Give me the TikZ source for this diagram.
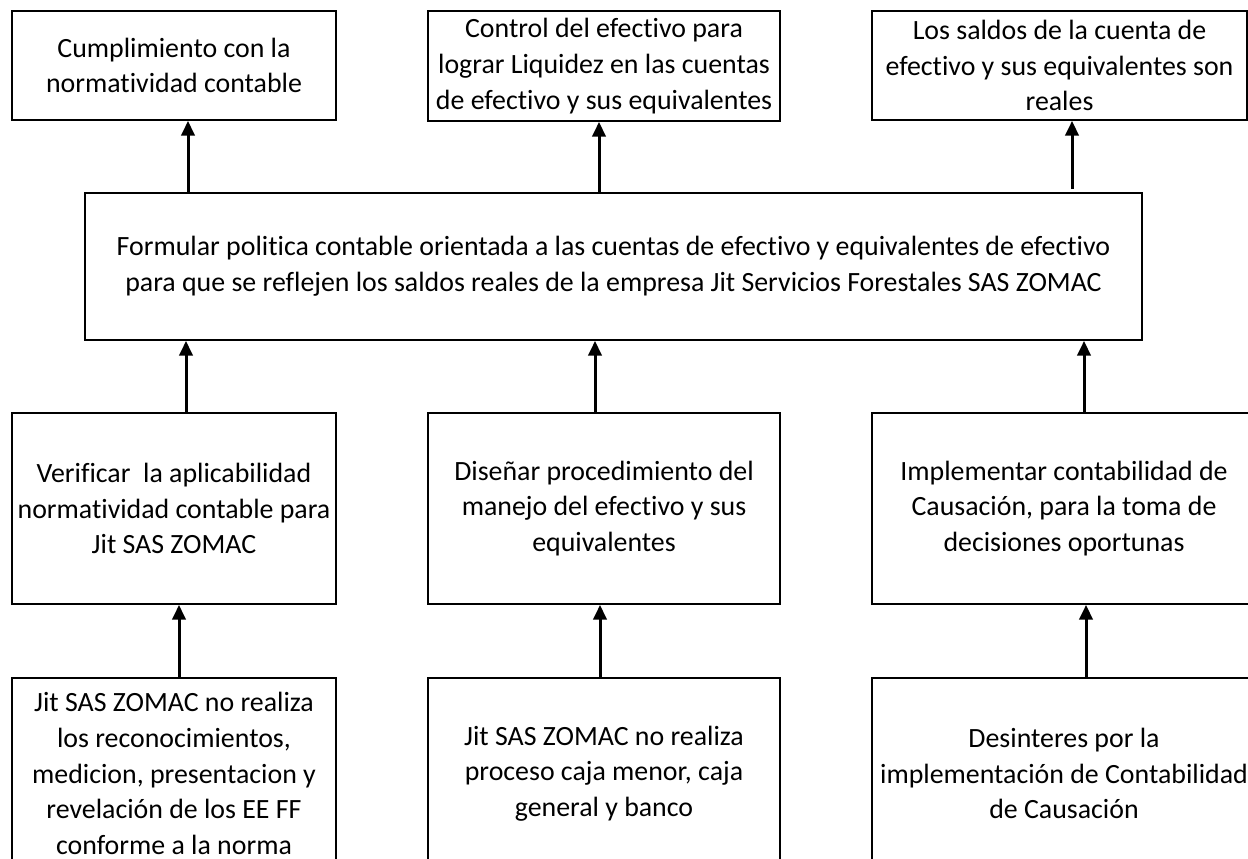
\documentclass[tikz,border=0pt]{standalone}
\usepackage{fontspec}
\setmainfont{Carlito}[Ligatures=CommonOff]
\usetikzlibrary{arrows.meta,calc}

\tikzset{
  caja/.style={draw, line width=1.4pt, align=center, inner sep=0pt},
  flecha/.style={-{Triangle[length=11pt,width=10pt]}, line width=2.25pt}
}

\begin{document}
\begin{tikzpicture}[x=0.75pt, y=-0.75pt, font=\fontsize{20.9}{26.8}\selectfont]
        \clip (0,0) rectangle (1248,858);
        \useasboundingbox (0,0) rectangle (1248,858);

        % Fines
        \node[caja, minimum width=243pt, minimum height=81.75pt] (fin1) at (174,65.5)
            {Cumplimiento con la\\normatividad contable};
        \node[caja, minimum width=264pt, minimum height=82.5pt] (fin2) at (604,66)
            {Control del efectivo para\\lograr Liquidez en las cuentas\\de efectivo y sus equivalentes};
        \node[caja, minimum width=281.25pt, minimum height=81.75pt] (fin3) at (1059.5,65.5)
            {Los saldos de la cuenta de\\efectivo y sus equivalentes son\\reales};

        % Objetivo general
        \node[caja, minimum width=792.75pt, minimum height=110.25pt] (obj) at (613.5,266.5)
            {Formular politica contable orientada a las cuentas de efectivo y equivalentes de efectivo\\
             para que se reflejen los saldos reales de la empresa Jit Servicios Forestales SAS ZOMAC};

        % Medios
        \node[caja, minimum width=243pt, minimum height=143.25pt] (med1) at (174,508.5)
            {Verificar\ \ la aplicabilidad\\normatividad contable para\\Jit SAS ZOMAC};
        \node[caja, minimum width=264pt, minimum height=143.25pt] (med2) at (604,508.5)
            {Diseñar procedimiento del\\manejo del efectivo y sus\\equivalentes};
        \node[caja, minimum width=288pt, minimum height=143.25pt] (med3) at (1064,508.5)
            {Implementar contabilidad de\\Causación, para la toma de\\decisiones oportunas};

        % Problemas
        \node[caja, minimum width=243pt, minimum height=143.25pt] (cau1) at (174,773.5)
            {Jit SAS ZOMAC no realiza\\los reconocimientos,\\medicion, presentacion y\\revelación de los EE FF\\conforme a la norma};
        \node[caja, minimum width=264pt, minimum height=143.25pt] (cau2) at (604,773.5)
            {Jit SAS ZOMAC no realiza\\proceso caja menor, caja\\general y banco};
        \node[caja, minimum width=288pt, minimum height=143.25pt] (cau3) at (1064,773.5)
            {Desinteres por la\\implementación de Contabilidad\\de Causación};

        % Flechas
        \draw[flecha] ($(obj.north -| fin1.south)+(14,0)$) -- ($(fin1.south)+(14,0)$);
        \draw[flecha] ($(obj.north -| fin2.south)+(-5,0)$) -- ($(fin2.south)+(-5,0)$);
        \draw[flecha] ($(obj.north -| fin3.south)+(12.5,-3)$) -- ($(fin3.south)+(12.5,0)$);

        \draw[flecha] ($(med1.north)+(12,0)$) -- ($(obj.south -| med1.north)+(12,0)$);
        \draw[flecha] ($(med2.north)+(-9,0)$) -- ($(obj.south -| med2.north)+(-9,0)$);
        \draw[flecha] ($(med3.north)+(20,0)$) -- ($(obj.south -| med3.north)+(20,0)$);

        \draw[flecha] ($(cau1.north)+(5,0)$) -- ($(med1.south)+(5,0)$);
        \draw[flecha] ($(cau2.north)+(-4,0)$) -- ($(med2.south)+(-4,0)$);
        \draw[flecha] ($(cau3.north)+(22,0)$) -- ($(med3.south)+(22,0)$);
    \end{tikzpicture}
\end{document}
